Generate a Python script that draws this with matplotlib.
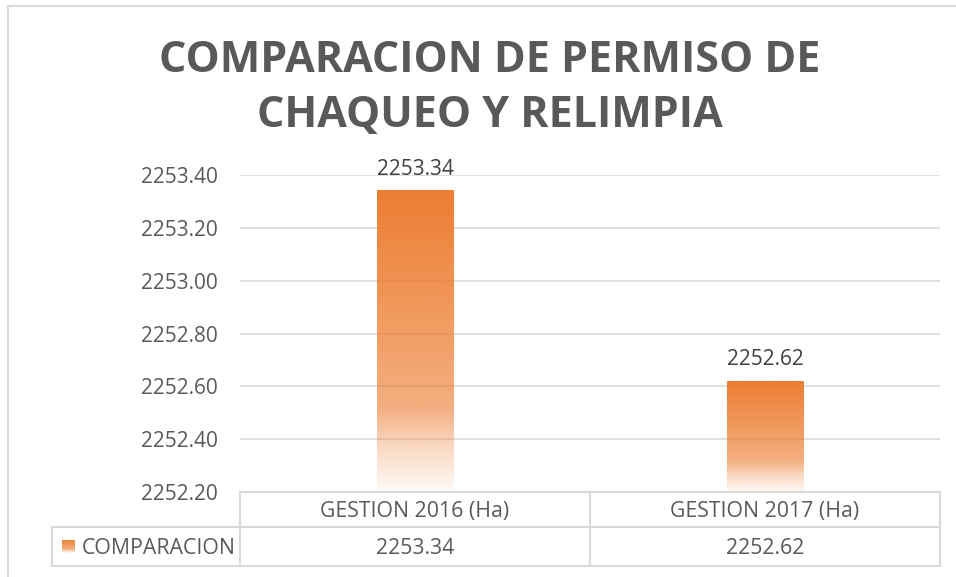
import numpy as np
import matplotlib.pyplot as plt
from matplotlib.colors import to_rgb
from matplotlib.lines import Line2D
from matplotlib.patches import Rectangle

categories = ['GESTION 2016 (Ha)', 'GESTION 2017 (Ha)']
values = [2253.34, 2252.62]
value_labels = ['2253.34', '2252.62']
series_name = 'COMPARACION'
title = 'COMPARACION DE PERMISO DE\nCHAQUEO Y RELIMPIA'
y_ticks = [2252.20, 2252.40, 2252.60, 2252.80, 2253.00, 2253.20, 2253.40]

W, H = 956, 577
FONT = 'Open Sans'
GRAY = '#595959'
GRID = '#d9d9d9'
ORANGE = '#ed7d31'


def fx(px):
    return px / W


def fy(py):
    return 1 - py / H


def gradient(n=256):
    # orange fading to transparent towards the bottom
    t = np.linspace(0, 1, n)
    a = np.interp(t, [0, 0.72, 0.85, 1.0], [1.0, 0.62, 0.3, 0.04])
    img = np.zeros((n, 1, 4))
    img[:, 0, :3] = to_rgb(ORANGE)
    img[:, 0, 3] = a
    return img


fig = plt.figure(figsize=(W / 100, H / 100), dpi=100)
ax = fig.add_axes([fx(240), fy(492), fx(940) - fx(240), fy(175) - fy(492)])

ymin, ymax = y_ticks[0], y_ticks[-1]
ax.set_xlim(-0.5, len(categories) - 0.5)
ax.set_ylim(ymin, ymax)
ax.set_yticks(y_ticks)
ax.set_yticklabels(['%.2f' % v for v in y_ticks], fontsize=15, color=GRAY, family=FONT)
ax.set_xticks([])
ax.tick_params(axis='y', length=0, pad=16)
for s in ax.spines.values():
    s.set_visible(False)
ax.grid(axis='y', color=GRID, lw=1.2, zorder=0)
ax.set_axisbelow(True)

bw = 0.22
grad = gradient()
for i, v in enumerate(values):
    ax.imshow(grad, extent=[i - bw / 2, i + bw / 2, ymin, v], aspect='auto',
              zorder=2, interpolation='bilinear')
    ax.text(i, v + 0.04, value_labels[i], ha='center', va='bottom',
            fontsize=15, color='#404040', family=FONT)
ax.set_xlim(-0.5, len(categories) - 0.5)
ax.set_ylim(ymin, ymax)

fig.text(0.512, fy(88), title, ha='center', va='center', fontsize=31,
         fontweight='bold', color=GRAY, family=FONT, linespacing=1.38)

# data table under the plot
lc = '#d9d9d9'
lines = [
    ((240, 940), (492, 492)),
    ((52, 940), (527, 527)),
    ((52, 940), (566, 566)),
    ((52, 52), (527, 566)),
    ((240, 240), (492, 566)),
    ((590, 590), (492, 566)),
    ((940, 940), (492, 566)),
]
for xs, ys in lines:
    fig.add_artist(Line2D([fx(xs[0]), fx(xs[1])], [fy(ys[0]), fy(ys[1])],
                          color=lc, lw=1.5))
trans = ax.get_xaxis_transform()
span = fy(175) - fy(492)
for i, (c, lab) in enumerate(zip(categories, value_labels)):
    ax.text(i, (fy(511) - fy(492)) / span, c, transform=trans,
            ha='center', va='center', fontsize=15.3, color=GRAY, family=FONT, clip_on=False)
    ax.text(i, (fy(548) - fy(492)) / span, lab, transform=trans,
            ha='center', va='center', fontsize=15.3, color=GRAY, family=FONT, clip_on=False)

kax = fig.add_axes([fx(62), fy(553), fx(75) - fx(62), fy(540) - fy(553)])
kax.imshow(grad, extent=[0, 1, 0, 1], aspect='auto')
kax.axis('off')
fig.text(fx(82), fy(548), series_name, ha='left', va='center', fontsize=15.3,
         color=GRAY, family=FONT)

# chart border
fig.add_artist(Rectangle((fx(8), fy(H + 10)), 1.2, fy(6) - fy(H + 10),
                         fill=False, ec='#d9d9d9', lw=1.5))

fig.savefig('out.png', dpi=100)
